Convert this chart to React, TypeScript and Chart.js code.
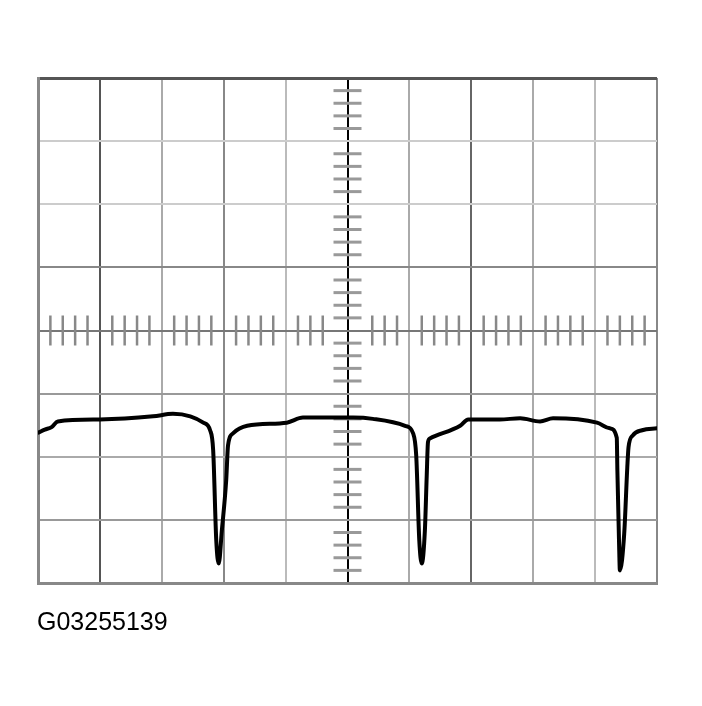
import React, { useEffect, useRef } from "react";
import { Chart, registerables } from "chart.js";

Chart.register(...registerables);

// trace, in divisions (x: 0..10, y: -4..4)
const traceX = [
  0, 0.11, 0.22, 0.32, 1.0, 1.86, 2.18, 2.46, 2.67, 2.78, 2.83, 2.88, 2.92, 2.97, 3.04, 3.07, 3.15,
  3.38, 4.02, 4.28, 5.09, 5.41, 5.93, 6.06, 6.11, 6.16, 6.2, 6.25, 6.28, 6.3, 6.33, 6.82, 6.95, 7.46,
  7.79, 8.11, 8.32, 9.03, 9.24, 9.35, 9.36, 9.39, 9.4, 9.47, 9.52, 9.54, 9.61, 9.76, 10,
];
const traceY = [
  -1.62, -1.57, -1.53, -1.44, -1.41, -1.36, -1.32, -1.36, -1.46, -1.58, -1.9, -3.33, -3.69, -3.17,
  -2.38, -1.82, -1.63, -1.51, -1.46, -1.38, -1.38, -1.4, -1.51, -1.63, -1.98, -3.33, -3.69, -3.17,
  -2.3, -1.77, -1.71, -1.51, -1.41, -1.41, -1.39, -1.44, -1.39, -1.46, -1.55, -1.7, -2.22, -3.49,
  -3.8, -3.22, -2.17, -1.85, -1.66, -1.58, -1.55,
];

// graticule
const xDivs = 10;
const yDivs = 8;
const subDiv = 5;
const label = "G03255139";

// grid line colours per division line, as they look in the scan
const vLineColor: Record<number, string> = {
  1: "#555", 2: "#aaa", 3: "#888", 4: "#bbb", 5: "#000", 6: "#aaa", 7: "#666", 8: "#aaa", 9: "#bbb",
};
const hLineColor: Record<number, string> = {
  3: "#ccc", 2: "#ccc", 1: "#888", 0: "#777", "-1": "#999", "-2": "#aaa", "-3": "#999",
};

function minorTicks() {
  const vAxis: { x: number; y: number }[] = [];
  const hAxis: { x: number; y: number }[] = [];
  for (let i = 0; i < yDivs * subDiv; i++) {
    if (i % subDiv === 0) continue;
    vAxis.push({ x: xDivs / 2, y: -yDivs / 2 + i / subDiv });
  }
  for (let i = 0; i < xDivs * subDiv; i++) {
    if (i % subDiv === 0) continue;
    const x = i / subDiv;
    if (Math.abs(x - xDivs / 2) < 0.3) continue; // left clear round the centre line
    hAxis.push({ x, y: 0 });
  }
  return { vAxis, hAxis };
}

const App: React.FC = () => {
  const canvasRef = useRef<HTMLCanvasElement | null>(null);
  const chartRef = useRef<Chart | null>(null);

  useEffect(() => {
    if (chartRef.current) chartRef.current.destroy();
    if (!canvasRef.current) return;

    const { vAxis, hAxis } = minorTicks();

    chartRef.current = new Chart(canvasRef.current, {
      type: "scatter",
      data: {
        datasets: [
          {
            label: "trace",
            data: traceX.map((x, i) => ({ x, y: traceY[i] })),
            showLine: true,
            borderColor: "#000",
            borderWidth: 4,
            pointRadius: 0,
            cubicInterpolationMode: "monotone",
            borderJoinStyle: "round",
            borderCapStyle: "round",
            order: 0,
          },
          {
            label: "vticks",
            data: vAxis,
            pointStyle: "line",
            pointRadius: 14,
            pointBorderWidth: 3,
            borderColor: "#999",
            backgroundColor: "#999",
            order: 2,
          },
          {
            label: "hticks",
            data: hAxis,
            pointStyle: "line",
            rotation: 90,
            pointRadius: 15,
            pointBorderWidth: 2.5,
            borderColor: "#888",
            backgroundColor: "#888",
            order: 1,
          },
        ],
      },
      options: {
        responsive: true,
        maintainAspectRatio: false,
        animation: false,
        layout: { padding: { left: 38, top: 78, right: 45, bottom: 123 } },
        plugins: {
          legend: { display: false },
          tooltip: { enabled: false },
        },
        scales: {
          x: {
            type: "linear",
            min: 0,
            max: xDivs,
            ticks: { display: false, stepSize: 1 },
            grid: {
              drawTicks: false,
              color: (ctx: any) => vLineColor[ctx.tick?.value] ?? "#888",
              lineWidth: 2,
            },
            border: { color: "#888", width: 3 },
          },
          y: {
            type: "linear",
            min: -yDivs / 2,
            max: yDivs / 2,
            ticks: { display: false, stepSize: 1 },
            grid: {
              drawTicks: false,
              color: (ctx: any) => (ctx.tick?.value === 4 ? "#555" : hLineColor[ctx.tick?.value] ?? "#888"),
              lineWidth: (ctx: any) => (ctx.tick?.value === 4 ? 3 : 2),
            },
            border: { color: "#888", width: 3 },
          },
        },
      },
    });

    return () => {
      if (chartRef.current) {
        chartRef.current.destroy();
        chartRef.current = null;
      }
    };
  }, []);

  return (
    <div style={{ position: "absolute", left: 0, top: 0, width: 702, height: 706, background: "#fff" }}>
      <canvas ref={canvasRef}></canvas>
      <div
        style={{
          position: "absolute",
          left: 37,
          top: 609,
          fontFamily: "'Liberation Sans', Arial, sans-serif",
          fontSize: 25,
          lineHeight: 1,
          color: "#000",
        }}
      >
        {label}
      </div>
    </div>
  );
};

export default App;
